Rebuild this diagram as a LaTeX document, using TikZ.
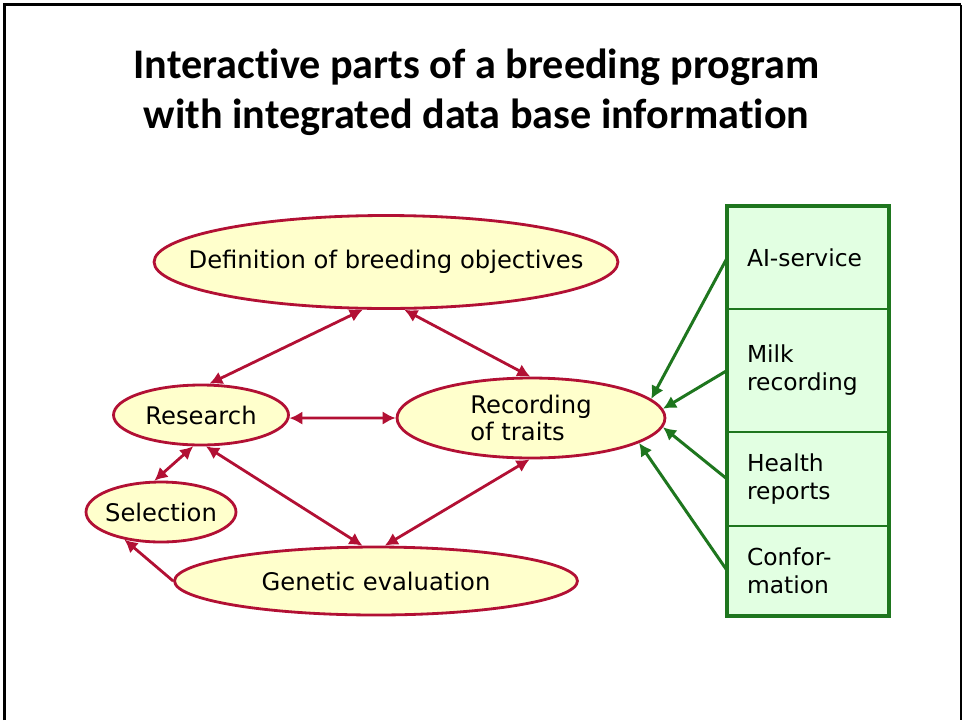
\documentclass[tikz,border=0pt]{standalone}
\usepackage{fontspec}
\setmainfont{DejaVu Sans}
\newfontfamily\headfont[Ligatures=NoCommon]{Carlito}
\usetikzlibrary{positioning, shapes.geometric, arrows.meta}

\definecolor{ringred}{RGB}{178,16,52}
\definecolor{paleyellow}{RGB}{255,255,204}
\definecolor{leafgreen}{RGB}{30,118,30}
\definecolor{palegreen}{RGB}{226,255,226}

\begin{document}
\begin{tikzpicture}[
  x=0.02cm, y=-0.02cm,
  oval/.style={ellipse, draw=ringred, fill=paleyellow, line width=1.6pt,
               inner sep=-1.5cm, align=center, font=\fontsize{13.8}{15}\selectfont},
  cell/.style={rectangle, draw=leafgreen, fill=palegreen, line width=1.1pt,
               minimum width=3.2cm, text width=2.44cm, inner xsep=0.38cm,
               inner ysep=0pt, align=left, font=\fontsize{13.3}{15.9}\selectfont},
  link/.style={draw=ringred, line width=1.6pt,
               {Latex[length=2.6mm,width=2.7mm]}-{Latex[length=2.6mm,width=2.7mm]}},
  oneway/.style={draw=ringred, line width=1.6pt, -{Latex[length=2.6mm,width=2.7mm]}},
  feed/.style={draw=leafgreen, line width=1.7pt, -{Latex[length=2.6mm,width=2.7mm]}}
]
\useasboundingbox (0,0) rectangle (962,720);
% Frame
\draw[line width=1.4pt] (4.5,720) -- (4.5,4.5) -- (961,4.5);
\draw[line width=0.9pt] (961,4.5) -- (961,720);
% Title
\node[font=\headfont\bfseries\fontsize{24}{28.3}\selectfont, align=center, anchor=base]
  (title) at (476.5,128) {Interactive parts of a breeding program\\with integrated data base information};
% Nodes
\node[oval, minimum width=9.28cm, minimum height=1.86cm] (objectives) at (386,262) {Definition of breeding objectives};
\node[oval, minimum width=3.5cm, minimum height=1.2cm] (research) at (201,415) {Research};
\node[oval, minimum width=5.36cm, minimum height=1.6cm, align=left] (recording) at (531,418) {Recording\\of traits};
\node[oval, minimum width=3.0cm, minimum height=1.2cm] (selection) at (161,512) {Selection};
\node[oval, minimum width=8.06cm, minimum height=1.36cm] (evaluation) at (376,581) {Genetic evaluation};
\node[cell, minimum height=2.04cm] (ai) at (808,258) {AI-service};
\node[cell, minimum height=2.46cm] (milk) at (808,370.5) {Milk\\recording};
\node[cell, minimum height=1.88cm] (health) at (808,479) {Health\\reports};
\node[cell, minimum height=1.78cm] (conform) at (808,570.5) {Confor-\\mation};
\draw[leafgreen, line width=2pt] (ai.north west) rectangle (conform.south east);
% Edges
\path[link] (objectives.244) -- (research.75);
\path[link] (objectives.291) -- (recording.91);
\path[link] (research.358) -- (recording.180);
\path[link] (research.256) -- (selection.102);
\path[link] (research.279) -- (evaluation.111);
\path[link] (recording.268) -- (evaluation.76);
\path[oneway] (evaluation.180) -- (selection.217);
\path[feed] (ai.west) -- (recording.9);
\path[feed] (milk.west) -- (recording.4);
\path[feed] (health.west) -- (recording.356);
\path[feed] (conform.west) -- (recording.347);
\end{tikzpicture}
\end{document}
